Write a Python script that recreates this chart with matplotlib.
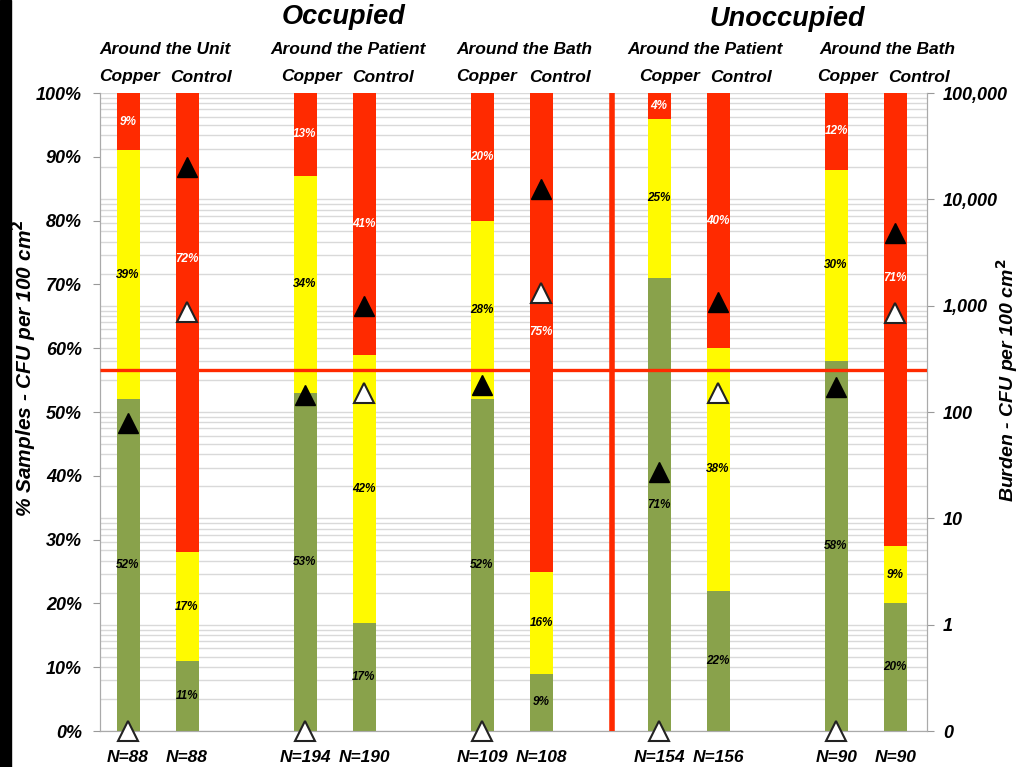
import numpy as np
import matplotlib
matplotlib.use("Agg")
import matplotlib.pyplot as plt
from matplotlib.patches import Rectangle
from matplotlib.ticker import FixedLocator, LogLocator, NullFormatter
from matplotlib.transforms import blended_transform_factory

# bar slots: copper/control pairs for each sampling area
positions = [0, 1, 3, 4, 6, 7, 9, 10, 12, 13]
arms = ["Copper", "Control"] * 5
areas = ["Around the Unit", "Around the Patient", "Around the Bath",
         "Around the Patient", "Around the Bath"]
n_samples = [88, 88, 194, 190, 109, 108, 154, 156, 90, 90]

# % of samples per burden class
pct_green = [52, 11, 53, 17, 52, 9, 71, 22, 58, 20]
pct_yellow = [39, 17, 34, 42, 28, 16, 25, 38, 30, 9]
pct_red = [9, 72, 13, 41, 20, 75, 4, 40, 12, 71]

# burden, CFU per 100 cm2
mean_cfu = [79, 20200, 145, 1000, 180, 12500, 27, 1090, 172, 4840]
median_cfu = [0, 875, 0, 151, 0, 1320, 0, 151, 0, 855]
threshold_cfu = 250
right_ticks = [0.1, 1, 10, 100, 1000, 10000, 100000]
right_labels = ["0", "1", "10", "100", "1,000", "10,000", "100,000"]

GREEN = "#89a24b"
YELLOW = "#fffa00"
RED = "#ff2a00"
FONT = "Liberation Sans"

# red-segment labels nudged up so the median marker doesn't cover them
red_label_nudge = {1: 10, 9: 6.5}

W, H = 1019, 767
fig = plt.figure(figsize=(W / 100, H / 100), dpi=100)
fig.patch.set_facecolor("white")
ax = fig.add_axes([100 / W, 1 - 731 / H, 827 / W, 638 / H])
ax2 = ax.twinx()
ax.set_zorder(ax2.get_zorder() + 1)
ax.patch.set_visible(False)


def style_ticks(labels, size):
    for t in labels:
        t.set_fontfamily(FONT)
        t.set_fontweight("bold")
        t.set_fontstyle("italic")
        t.set_fontsize(size)


# log grid for the burden axis, behind the bars
ax2.set_yscale("log")
ax2.set_ylim(0.1, 100000)
ax2.yaxis.set_major_locator(FixedLocator(right_ticks))
ax2.set_yticklabels(right_labels)
ax2.yaxis.set_minor_locator(LogLocator(base=10, subs=np.arange(2, 10)))
ax2.yaxis.set_minor_formatter(NullFormatter())
ax2.grid(True, which="both", axis="y", color="#d9d9d9", linewidth=1.0)
ax2.tick_params(axis="y", which="minor", length=0)
ax2.tick_params(axis="y", which="major", length=5, color="#999999", pad=6.5)
style_ticks(ax2.get_yticklabels(), 13)

x = np.array(positions, dtype=float)
g = np.array(pct_green)
yl = np.array(pct_yellow)
r = np.array(pct_red)
w = 0.39
ax.bar(x, g, w, color=GREEN, zorder=2)
ax.bar(x, yl, w, bottom=g, color=YELLOW, zorder=2)
ax.bar(x, r, w, bottom=g + yl, color=RED, zorder=2)

lab = dict(ha="center", va="center", fontsize=8.5, fontweight="bold",
           fontstyle="italic", family=FONT, zorder=3)
for i, (xi, a, b, c) in enumerate(zip(x, g, yl, r)):
    ax.text(xi, a / 2, f"{a}%", color="black", **lab)
    ax.text(xi, a + b / 2, f"{b}%", color="black", **lab)
    ax.text(xi, a + b + c / 2 + red_label_nudge.get(i, 0), f"{c}%",
            color="white", **lab)

ax.set_xlim(-0.475, 13.54)
ax.set_ylim(0, 100)
ax.set_yticks(np.arange(0, 101, 10))
ax.set_yticklabels([f"{v}%" for v in range(0, 101, 10)])
ax.set_xticks([])
ax.tick_params(axis="y", length=5, color="#999999", pad=8)
style_ticks(ax.get_yticklabels(), 13)
for a in (ax, ax2):
    a.spines["top"].set_visible(False)
    for s in ("left", "right", "bottom"):
        a.spines[s].set_color("#aaaaaa")

# threshold line and occupied/unoccupied divider
thr = blended_transform_factory(ax.transAxes, ax2.transData)
ax.plot([0, 1], [threshold_cfu, threshold_cfu], color=RED, lw=2.4,
        transform=thr, zorder=4, solid_capstyle="butt")
ax.axvline(8.2, color=RED, lw=4, zorder=4)

# mean (black) and median (white) burden markers on the log axis
mean_y = np.where(np.array(mean_cfu) > 0, mean_cfu, 0.1)
med_y = np.where(np.array(median_cfu) > 0, median_cfu, 0.1)
ax.plot(x, mean_y, "^", ms=14, color="black", mec="black",
        transform=ax2.transData, zorder=5, clip_on=False)
ax.plot(x, med_y, "^", ms=14, color="white", mec="#222222", mew=1.5,
        transform=ax2.transData, zorder=5, clip_on=False)

# N labels under the bars
nt = blended_transform_factory(ax.transData, fig.transFigure)
for xi, n in zip(x, n_samples):
    ax.text(xi, 1 - 757 / H, f"N={n}", transform=nt, ha="center", va="center",
            fontsize=12.5, fontweight="bold", fontstyle="italic", family=FONT)

hdr = dict(ha="center", va="center", fontweight="bold", fontstyle="italic", family=FONT)
fig.text(344 / W, 1 - 17 / H, "Occupied", fontsize=19.5, **hdr)
fig.text(787 / W, 1 - 19 / H, "Unoccupied", fontsize=19.5, **hdr)
for cx, name in zip([165, 348, 524, 705, 887], areas):
    fig.text(cx / W, 1 - 49 / H, name, fontsize=12.5, **hdr)
for cx, name in zip([130, 201, 312, 383, 487, 560, 670, 741, 848, 919], arms):
    fig.text(cx / W, 1 - 77 / H, name, fontsize=12.5, **hdr)

fig.text(24 / W, 1 - 368 / H, "% Samples - CFU per 100 cm$^{\\mathbf{2}}$",
         rotation=90, fontsize=15, **hdr)
fig.text(1007 / W, 1 - 380 / H, "Burden - CFU per 100 cm$^{\\mathbf{2}}$",
         rotation=90, fontsize=14, **hdr)

# dark strip along the left edge
fig.patches.append(Rectangle((0, 0), 11 / W, 1, transform=fig.transFigure,
                             color="black", zorder=10))

fig.savefig("out.png", dpi=100)
